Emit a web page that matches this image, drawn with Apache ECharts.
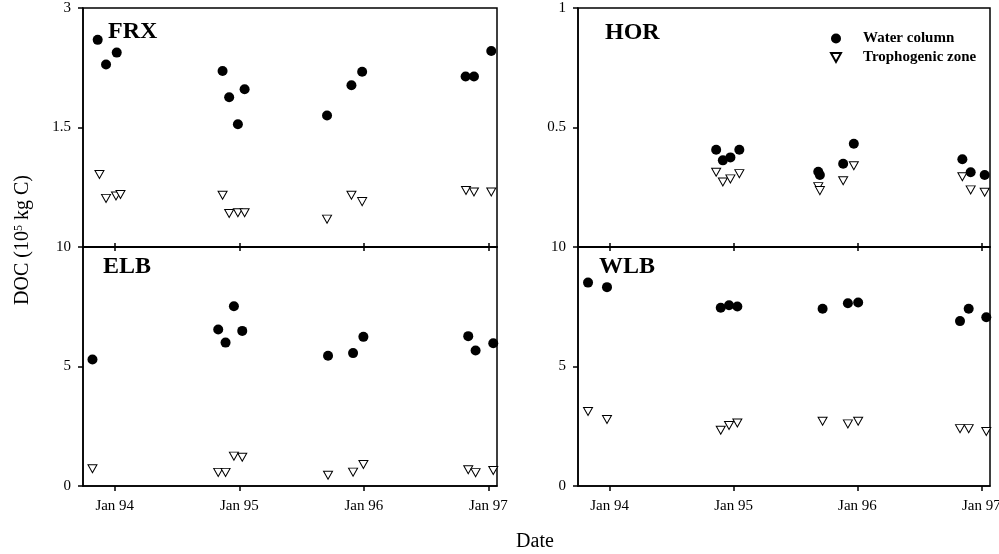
<!DOCTYPE html>
<html>
  <head>
    <meta charset="utf-8" />
    <script src="https://cdn.jsdelivr.net/npm/echarts@6.0.0/dist/echarts.min.js"></script>
  </head>
  <body style="margin:0">
    <div id="main" style="width: 999px;height:554px;"></div>
    <script type="text/javascript">
      // dates as decimal years, DOC in 10^5 kg C
      var frxWaterDates = [1993.863, 1993.930, 1994.016, 1994.866, 1994.919, 1994.989, 1995.043, 1995.705, 1995.901, 1995.987, 1996.818, 1996.885, 1997.024];
      var frxWater = [2.60, 2.29, 2.44, 2.21, 1.88, 1.54, 1.98, 1.65, 2.03, 2.20, 2.14, 2.14, 2.46];
      var frxTrophDates = [1993.877, 1993.930, 1994.010, 1994.046, 1994.866, 1994.919, 1994.989, 1995.043, 1995.705, 1995.901, 1995.987, 1996.821, 1996.885, 1997.024];
      var frxTroph = [0.91, 0.61, 0.64, 0.66, 0.65, 0.42, 0.43, 0.43, 0.35, 0.65, 0.57, 0.71, 0.69, 0.69];

      var horDates = [1994.860, 1994.914, 1994.975, 1995.047, 1995.684, 1995.697, 1995.885, 1995.971, 1996.847, 1996.914, 1997.027];
      var horWater = [0.407, 0.3625, 0.375, 0.407, 0.315, 0.301, 0.348, 0.432, 0.367, 0.3125, 0.301];
      var horTroph = [0.3125, 0.272, 0.285, 0.307, 0.2525, 0.236, 0.2775, 0.34, 0.294, 0.239, 0.229];

      var elbDates = [1993.821, 1994.831, 1994.890, 1994.957, 1995.024, 1995.713, 1995.914, 1995.997, 1996.839, 1996.898, 1997.040];
      var elbWater = [5.29, 6.55, 6.00, 7.52, 6.49, 5.45, 5.56, 6.24, 6.27, 5.67, 5.97];
      var elbTroph = [0.72, 0.57, 0.57, 1.25, 1.20, 0.45, 0.58, 0.90, 0.68, 0.56, 0.65];

      var wlbDates = [1993.826, 1993.979, 1994.897, 1994.964, 1995.031, 1995.719, 1995.923, 1996.006, 1996.828, 1996.898, 1997.040];
      var wlbWater = [8.51, 8.32, 7.46, 7.56, 7.51, 7.42, 7.65, 7.68, 6.90, 7.42, 7.06];
      var wlbTroph = [3.12, 2.78, 2.33, 2.53, 2.64, 2.71, 2.60, 2.71, 2.40, 2.40, 2.28];

      var yearTicks = [1994, 1995, 1996, 1997];
      var panelNames = ['FRX', 'HOR', 'ELB', 'WLB'];

      var myChart = echarts.init(document.getElementById('main'));
      var font = 'Liberation Serif, Times New Roman, serif';
      var tri = 'path://M0,0L10,0L5,9Z';

      function pairs(xs, ys) {
        return xs.map(function (x, i) { return [x, ys[i]]; });
      }

      var grids = [
        { left: 83, top: 8, width: 414, height: 239 },
        { left: 578, top: 8, width: 412, height: 239 },
        { left: 83, top: 247, width: 414, height: 239 },
        { left: 578, top: 247, width: 412, height: 239 }
      ];
      grids.forEach(function (g) {
        g.show = true;
        g.borderColor = '#000';
        g.borderWidth = 1.5;
        g.containLabel = false;
        g.outerBoundsMode = 'none';
      });

      function xAxis(gi, pos, showLabel, inside, len) {
        return {
          type: 'value', gridIndex: gi, position: pos,
          min: 1993.745, max: 1997.07,
          axisLine: { show: true, onZero: false, lineStyle: { color: '#000', width: 1.5 } },
          splitLine: { show: false },
          axisTick: { show: true, inside: inside, length: len, customValues: yearTicks, lineStyle: { color: '#000', width: 1.5 } },
          axisLabel: {
            show: showLabel, customValues: yearTicks, margin: 13,
            fontFamily: font, fontSize: 15, color: '#000',
            formatter: function (v) { return 'Jan ' + String(Math.round(v)).slice(2); }
          }
        };
      }

      function yAxis(gi, max, interval, hideZero) {
        return {
          type: 'value', gridIndex: gi, min: 0, max: max, interval: interval,
          axisLine: { show: true, lineStyle: { color: '#000', width: 1.5 } },
          splitLine: { show: false },
          axisTick: { show: true, length: 5, lineStyle: { color: '#000', width: 1.5 } },
          axisLabel: {
            margin: 12, fontFamily: font, fontSize: 15, color: '#000',
            formatter: function (v) { return (hideZero && v === 0) ? '' : String(v); }
          }
        };
      }

      function waterSeries(i, data) {
        return {
          name: 'Water column', type: 'scatter', xAxisIndex: i, yAxisIndex: i,
          data: data, symbol: 'circle', symbolSize: 10, z: 3,
          itemStyle: { color: '#000', opacity: 1 }
        };
      }
      function trophSeries(i, data) {
        return {
          name: 'Trophogenic zone', type: 'scatter', xAxisIndex: i, yAxisIndex: i,
          data: data, symbol: tri, symbolSize: [9, 8], z: 2,
          itemStyle: { color: '#fff', borderColor: '#000', borderWidth: 1, opacity: 1 }
        };
      }

      var titlePos = [[108, 20], [605, 21], [103, 255], [599, 255]];

      option = {
        animation: false,
        backgroundColor: '#fff',
        grid: grids,
        xAxis: [
          xAxis(0, 'bottom', false, true, 4),
          xAxis(1, 'bottom', false, true, 4),
          xAxis(2, 'bottom', true, false, 5),
          xAxis(3, 'bottom', true, false, 5),
          xAxis(2, 'top', false, true, 4),
          xAxis(3, 'top', false, true, 4)
        ],
        yAxis: [
          yAxis(0, 3, 1.5, true),
          yAxis(1, 1, 0.5, true),
          yAxis(2, 10, 5, false),
          yAxis(3, 10, 5, false)
        ],
        title: panelNames.map(function (n, i) {
          return {
            text: n, left: titlePos[i][0], top: titlePos[i][1], padding: 0,
            textStyle: { fontFamily: font, fontSize: 24, fontWeight: 'bold', color: '#000' }
          };
        }),
        legend: {
          orient: 'vertical', left: 830, top: 31, padding: 0,
          itemWidth: 10, itemHeight: 10, itemGap: 4,
          data: [
            { name: 'Water column', icon: 'circle' },
            { name: 'Trophogenic zone', icon: tri }
          ],
          textStyle: { fontFamily: font, fontSize: 15, fontWeight: 'bold', color: '#000', padding: [0, 0, 0, 17] }
        },
        graphic: [
          {
            type: 'text', x: 23, y: 240, rotation: Math.PI / 2,
            style: {
              text: 'DOC (10{s|5} kg C)', fill: '#000', fontFamily: font, fontSize: 20,
              align: 'center', verticalAlign: 'middle',
              rich: { s: { fontFamily: font, fontSize: 12, verticalAlign: 'top', fill: '#000' } }
            }
          },
          {
            type: 'text', x: 535, y: 542,
            style: { text: 'Date', fill: '#000', fontFamily: font, fontSize: 20, align: 'center', verticalAlign: 'middle' }
          }
        ],
        series: [
          trophSeries(0, pairs(frxTrophDates, frxTroph)),
          waterSeries(0, pairs(frxWaterDates, frxWater)),
          trophSeries(1, pairs(horDates, horTroph)),
          waterSeries(1, pairs(horDates, horWater)),
          trophSeries(2, pairs(elbDates, elbTroph)),
          waterSeries(2, pairs(elbDates, elbWater)),
          trophSeries(3, pairs(wlbDates, wlbTroph)),
          waterSeries(3, pairs(wlbDates, wlbWater))
        ]
      };

      myChart.setOption(option);
    </script>
  </body>
</html>
